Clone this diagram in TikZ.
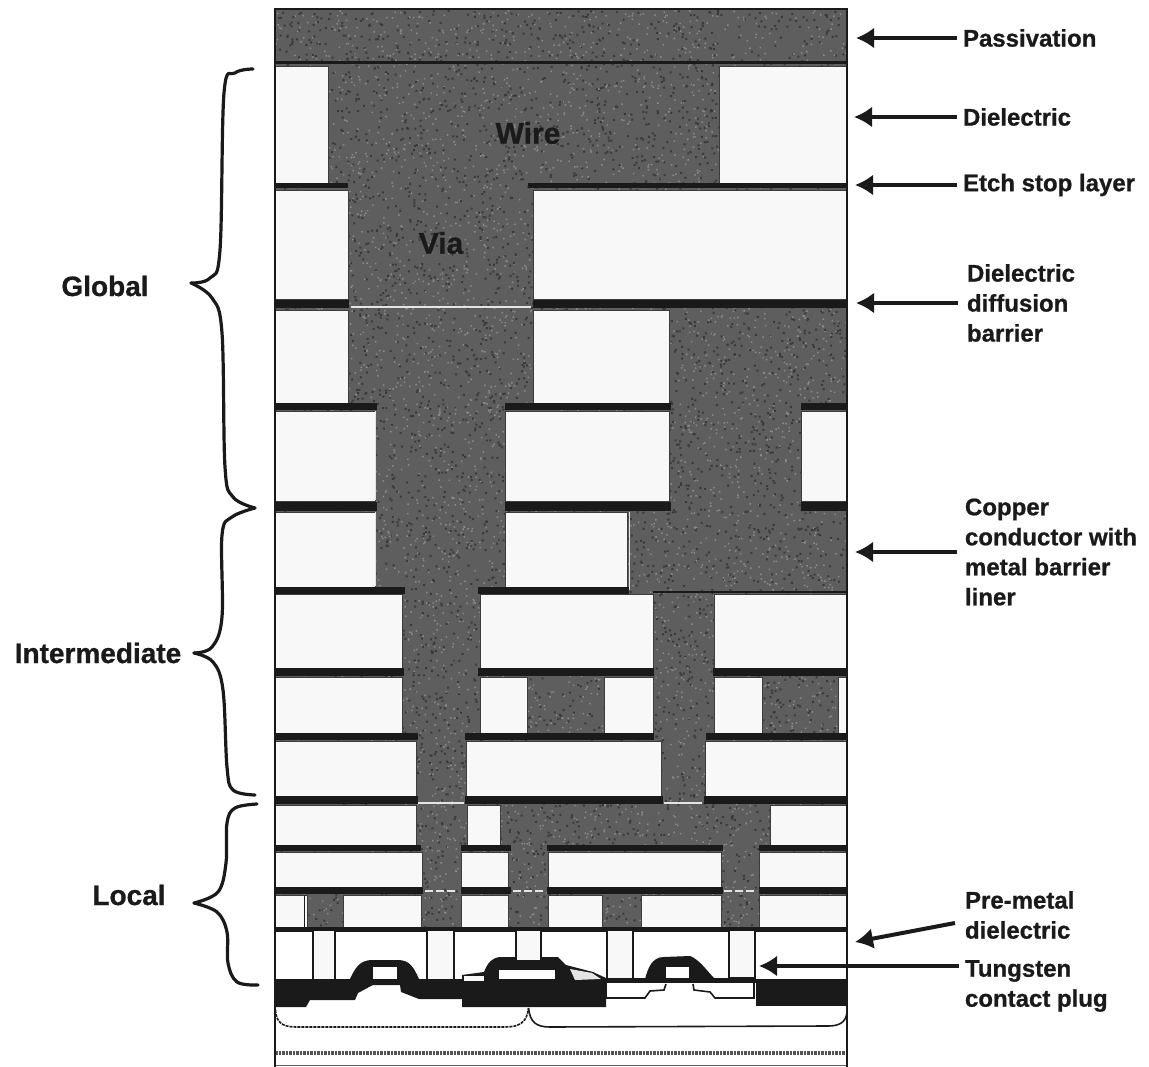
\documentclass[tikz,border=0pt]{standalone}
\usepackage{fontspec}
\setmainfont{Liberation Sans}[BoldFeatures={FakeBold=0.8}]
\usetikzlibrary{arrows.meta}
\definecolor{metal}{HTML}{5E5E5E}
\definecolor{speckA}{HTML}{8C8C8C}
\definecolor{speckB}{HTML}{3A3A3A}
\definecolor{diel}{HTML}{F8F8F8}
\definecolor{ink}{HTML}{1A1A1A}
\definecolor{glint}{HTML}{E4E4E4}
\tikzset{
  rlabel/.style={anchor=west,inner sep=0pt,outer sep=6pt,align=left,font=\fontsize{24}{30}\selectfont\bfseries,text=ink},
  llabel/.style={inner sep=0pt,font=\fontsize{28}{30}\selectfont\bfseries,text=ink},
  inlabel/.style={inner sep=0pt,font=\fontsize{30}{32}\selectfont\bfseries,text=ink},
  ptr/.style={draw=ink,line width=4pt,-{Latex[length=18pt,width=21pt]}},
  bracepath/.style={draw=ink,line width=3.2pt,line cap=round,line join=round},
  glintline/.style={draw=glint,line width=1.5pt},
  thinline/.style={draw=ink,line width=1.6pt},
  plugbox/.style={fill=diel,draw=ink,line width=1.6pt}
}
\begin{document}
\begin{tikzpicture}[x=1pt,y=-1pt]
\useasboundingbox (0,0) rectangle (1149,1067);
\fill[white] (0,0) rectangle (1149,1067);
% metal body
\fill[metal] (275,10) rectangle (847,932);
\begin{scope}
\clip (275,10) rectangle (847,932);
\pgfmathsetseed{4711}
\foreach \batch in {1,...,20}{
  \fill[speckA] \foreach \i in {1,...,300}{ ({275+572*rnd},{10+920*rnd}) rectangle ++(1.5,1.5) };
  \fill[speckB] \foreach \i in {1,...,300}{ ({275+572*rnd},{10+920*rnd}) rectangle ++(2,2) };
}
\end{scope}
% dielectric blocks
\foreach \xa/\ya/\xb/\yb in {
 275/66/328/183, 719/66/847/183,
 275/190/348/299, 533/190/847/299,
 275/310/348/403, 533/310/669/403,
 275/411/375/501, 505/411/669/501, 801/411/847/501,
 275/512/375/587, 505/512/627/587,
 275/594/402/668, 480/594/653/668, 714/594/847/668,
 275/677/402/733, 480/677/527/733, 604/677/653/733, 714/677/762/733, 838/677/847/733,
 275/741/416/796, 466/741/661/796, 705/741/847/796,
 275/805/416/845, 467/805/500/845, 770/805/847/845,
 275/852/422/887, 461/852/508/887, 548/852/721/887, 759/852/847/887,
 275/895/307/927, 343/895/421/927, 461/895/508/927, 548/895/602/927, 641/895/721/927, 759/895/847/927}
 {\filldraw[fill=diel,draw=ink!85,line width=.8pt] (\xa,\ya) rectangle (\xb,\yb);}
% dark barrier bars
\foreach \xa/\ya/\xb/\yb in {
 275/61/847/64.5,
 275/183/348/188.5, 528/183/847/188.5,
 275/300/349/308, 533/300/847/308,
 275/403/377/410, 505/403/671/410, 801/403/847/410,
 275/502/377/511, 505/502/671/511, 801/502/847/511,
 275/587/405/594, 478/587/629/594, 653/591/847/592.5,
 275/668/404/676, 478/668/654/676, 713/668/847/676,
 275/733/418/740, 465/733/654/740, 706/733/847/740,
 275/796/418/804, 465/796/663/804, 704/796/847/804,
 275/845/421/851, 461/845/511/851, 547/845/723/851, 759/845/847/851,
 275/887/423/894, 461/887/511/894, 547/887/723/894, 759/887/847/894,
 275/927/847/932}
 {\fill[ink] (\xa,\ya) rectangle (\xb,\yb);}
\draw[thinline,line width=1pt] (304,895) -- (304,927);
% light lines
\draw[glintline] (351,307) -- (531,307);
\draw[glintline] (418,803) -- (464,803);
\draw[glintline] (664,803) -- (702,803);
\draw[glintline] (629.5,512) -- (629.5,590);
\draw[glintline] (375.5,411) -- (375.5,500);
\draw[glintline] (375.5,512) -- (375.5,586);
\draw[glintline,dash pattern=on 8pt off 3pt] (425,891) -- (458,891);
\draw[glintline,dash pattern=on 8pt off 3pt] (513,891) -- (545,891);
\draw[glintline,dash pattern=on 8pt off 3pt] (724,891) -- (757,891);
% device region
\fill[white] (275,932) rectangle (847,1067);
\fill[ink] (275,979) -- (606,979) -- (606,1007) -- (462,1007) -- (462,999) -- (419,999) -- (401,992) -- (400,985)
  -- (373,985) -- (371,986) -- (358,993) -- (355,1000) -- (310,1000) -- (306,1007) -- (275,1007) -- cycle;
\fill[ink] (756,979) rectangle (847,1006);
\fill[ink] (606,978) rectangle (756,983);
\draw[thinline] (606,983) -- (606,998) -- (645,998) -- (650,991) -- (664,990) -- (666,984);
\draw[thinline] (693,984) -- (694,990) -- (710,992) -- (715,998) -- (754,998) -- (754,983);
\fill[ink] (350,979) .. controls (355,968) and (360,960) .. (372,960) -- (398,960) .. controls (410,960) and (414,968) .. (419,979) -- cycle;
\fill[ink] (462,975) -- (484,972) .. controls (488,962) and (492,958) .. (500,957) -- (558,957) -- (566,965) -- (593,972) -- (606,978) -- (606,982) -- (462,982) -- cycle;
\fill[ink] (645,979) .. controls (648,968) and (652,957) .. (664,957) -- (690,956) .. controls (700,960) and (706,970) .. (715,979) -- cycle;
\fill[white] (373,967) rectangle (397,979);
\fill[white] (499,970) rectangle (555,979);
\fill[white] (666,967) rectangle (689,978);
\fill[diel] (464,976) rectangle (484,981);
\fill[glint] (570,969) -- (592,973) -- (601,979) -- (575,980) -- cycle;
% tungsten plugs
\foreach \xa/\yb in {313/980, 427/980, 516/961, 607/979, 729/978}{
  \pgfmathsetmacro{\xb}{\xa+(\xa==313?22:(\xa==427?27:(\xa==516?25:26)))}
  \filldraw[plugbox] (\xa,930) rectangle (\xb,\yb);
}
% bottom brace and bands
\draw[thinline,dash pattern=on 3pt off 1pt] (275.5,1010) .. controls (276,1022) and (282,1027) .. (296,1027) -- (505,1027) .. controls (520,1027) and (527,1022) .. (528.5,1008);
\draw[thinline] (528.5,1008) .. controls (530,1022) and (536,1027) .. (550,1027) -- (828,1026) .. controls (840,1026) and (846,1022) .. (847,1012);
\draw[draw=ink!75,line width=3.5pt,dash pattern=on 2.5pt off 1pt] (275,1053) -- (847,1053);
\draw[draw=ink!70,line width=1pt] (275,1065.5) -- (847,1065.5);
% frame
\draw[ink,line width=2pt] (275,1067) -- (275,9.5) -- (847,9.5) -- (847,1067);
% inner labels
\node[inlabel,text=ink] (wire) at (528,133) {Wire};
\node[inlabel,text=ink] (via) at (441,243) {Via};
% left labels and braces
\node[llabel] (global) at (105,286) {Global};
\node[llabel] (intermediate) at (98,653) {Intermediate};
\node[llabel] (local) at (129,895) {Local};
\draw[bracepath] plot[smooth,tension=.6] coordinates {(253,69) (235,73) (224,93) (220,250) (210,278) (191,283)};
\draw[bracepath] plot[smooth,tension=.6] coordinates {(191,283) (212,298) (222,333) (225,467) (233,497) (255,508)};
\draw[bracepath] plot[smooth,tension=.6] coordinates {(255,508) (232,517) (222,535) (222,617) (212,647) (194,653)};
\draw[bracepath] plot[smooth,tension=.6] coordinates {(194,653) (213,662) (223,690) (227,767) (233,790) (255,795)};
\draw[bracepath] plot[smooth,tension=.6] coordinates {(257,804) (235,808) (227,823) (226,863) (218,892) (194,903)};
\draw[bracepath] plot[smooth,tension=.6] coordinates {(194,903) (217,912) (227,932) (228,963) (237,982) (258,985)};
% right labels and arrows
\node[rlabel] (passivation) at (957,38) {Passivation};
\node[rlabel] (dielectric) at (957,117) {Dielectric};
\node[rlabel] (etchstop) at (957,185) {Etch stop layer};
\node[rlabel] (barrier) at (961,303) {Dielectric\\diffusion\\barrier};
\node[rlabel] (copper) at (959,552) {Copper\\conductor with\\metal barrier\\liner};
\node[rlabel] (premetal) at (959,915) {Pre-metal\\dielectric};
\node[rlabel] (tungsten) at (959,986) {Tungsten\\contact plug};
\coordinate (tipPass) at (856,38);
\coordinate (tipDiel) at (854,117);
\coordinate (tipEtch) at (855,185);
\coordinate (tipBarr) at (856,303);
\coordinate (tipCopp) at (855,552);
\coordinate (tipPrem) at (855,942);
\coordinate (tipTung) at (759,966);
\draw[ptr] (passivation.west) -- (tipPass);
\draw[ptr] (dielectric.west) -- (tipDiel);
\draw[ptr] (etchstop.west) -- (tipEtch);
\draw[ptr] ([xshift=-3pt]barrier.west) -- (tipBarr);
\draw[ptr] ([xshift=-2pt]copper.west) -- (tipCopp);
\draw[ptr] ([xshift=-4pt,yshift=-8pt]premetal.west) -- (tipPrem);
\draw[ptr] ([yshift=20pt]tungsten.west) -- (tipTung);
\end{tikzpicture}
\end{document}
